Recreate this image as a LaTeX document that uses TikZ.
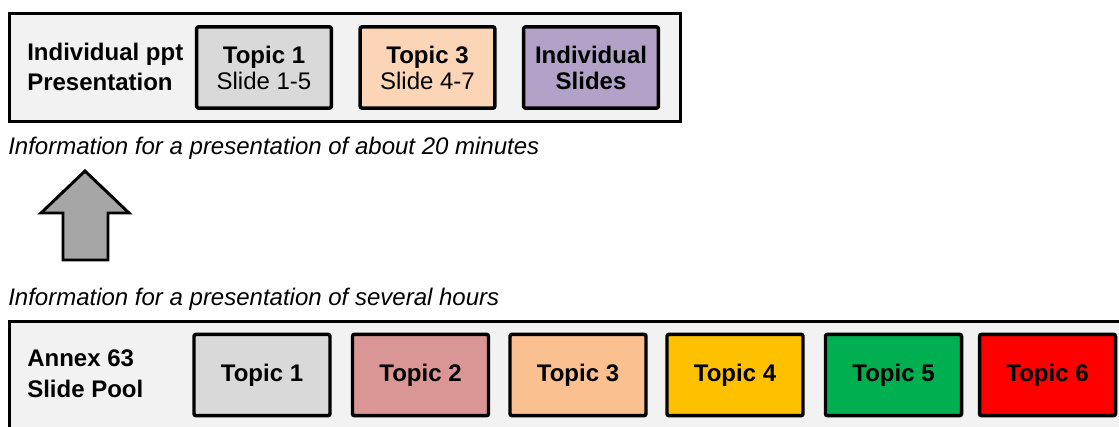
\documentclass[tikz,border=0pt]{standalone}
\usepackage{fontspec}
\setmainfont{Liberation Sans}
\definecolor{panel}{HTML}{F2F2F2}
\definecolor{greytopic}{HTML}{D9D9D9}
\definecolor{peachlight}{HTML}{FBD5B5}
\definecolor{peach}{HTML}{FAC090}
\definecolor{rose}{HTML}{D99694}
\definecolor{lilac}{HTML}{B3A2C7}
\definecolor{amber}{HTML}{FFC000}
\definecolor{leaf}{HTML}{00B050}
\definecolor{signal}{HTML}{FF0000}
\definecolor{arrowgrey}{HTML}{A6A6A6}
\begin{document}
\begin{tikzpicture}[x=0.75pt,y=-0.75pt,
  container/.style={draw=black,line width=2.2pt,fill=panel},
  topicbox/.style={draw=black,line width=2.6pt,rounded corners=1.5pt,
    minimum width=101pt,minimum height=61pt,inner sep=0pt,align=center,
    font=\fontsize{18}{19.5}\selectfont},
  poolbox/.style={topicbox,minimum width=102pt,minimum height=61pt},
  sidelabel/.style={anchor=west,inner sep=0pt,align=left,
    font=\fontsize{18}{22.5}\selectfont\bfseries},
  caption/.style={anchor=base west,inner sep=0pt,
    font=\fontsize{18}{20}\selectfont\itshape},
  bigarrow/.style={draw=black,line width=2.2pt,fill=arrowgrey,line join=miter}]
\useasboundingbox (0,0) rectangle (1119,426);
\clip (0,0) rectangle (1119,426);

% upper panel: the short presentation
\draw[container] (9.5,13.5) rectangle (680.5,121.5);
\node[sidelabel] (shortlabel) at (27,67) {Individual ppt\\Presentation};
\node[topicbox,fill=greytopic] (sone) at (264,67.5) {\textbf{Topic 1}\\Slide 1-5};
\node[topicbox,fill=peachlight] (sthree) at (427.5,67.5) {\textbf{Topic 3}\\Slide 4-7};
\node[topicbox,fill=lilac] (sslides) at (591,67.5) {\textbf{Individual}\\\textbf{Slides}};

\node[caption] (shortcap) at (8,154) {Information for a presentation of about 20 minutes};

% block arrow pointing up
\draw[bigarrow] (85,171) -- (129,213) -- (108,213) -- (108,260) -- (63,260)
  -- (63,213) -- (41,213) -- cycle;

\node[caption] (longcap) at (8,305) {Information for a presentation of several hours};

% lower panel: the full slide pool
\draw[container] (9.5,321.5) rectangle (1140,450);
\node[sidelabel,font=\fontsize{18}{23}\selectfont\bfseries] (poollabel) at (27,374) {Annex 63\\Slide Pool};
\node[poolbox,fill=greytopic,font=\fontsize{18}{19.5}\selectfont\bfseries] (pone) at (262,375) {Topic 1};
\node[poolbox,fill=rose,font=\fontsize{18}{19.5}\selectfont\bfseries] (ptwo) at (420.5,375) {Topic 2};
\node[poolbox,fill=peach,font=\fontsize{18}{19.5}\selectfont\bfseries] (pthree) at (578,375) {Topic 3};
\node[poolbox,fill=amber,font=\fontsize{18}{19.5}\selectfont\bfseries] (pfour) at (735,375) {Topic 4};
\node[poolbox,fill=leaf,font=\fontsize{18}{19.5}\selectfont\bfseries] (pfive) at (893.5,375) {Topic 5};
\node[poolbox,fill=signal,font=\fontsize{18}{19.5}\selectfont\bfseries] (psix) at (1047.5,375) {Topic 6};
\end{tikzpicture}
\end{document}
